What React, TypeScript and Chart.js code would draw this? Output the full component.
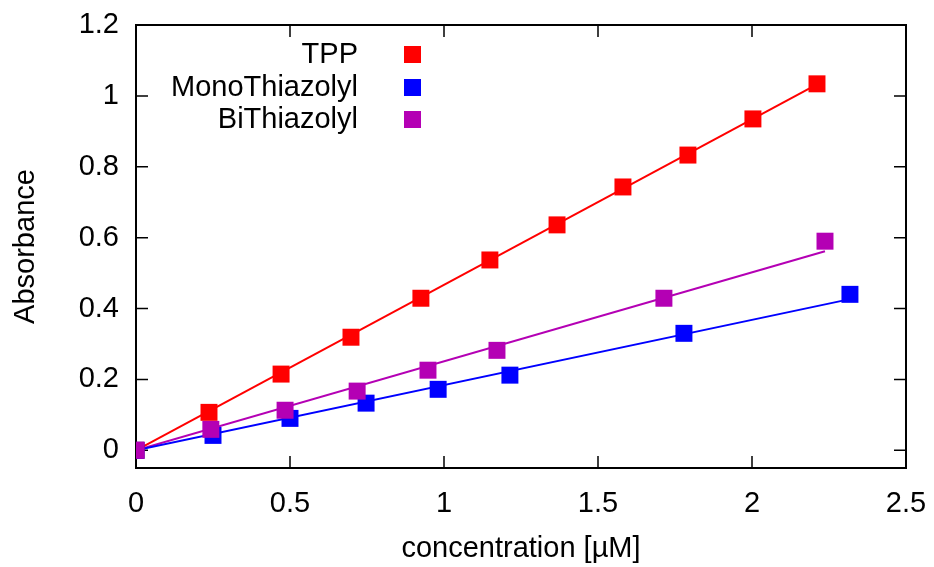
import React, { useEffect, useRef } from "react";
import { Chart, registerables } from "chart.js";

Chart.register(...registerables);

const seriesNames = ["TPP", "MonoThiazolyl", "BiThiazolyl"];
const seriesColors = ["#ff0000", "#0000ff", "#b400b4"];

const tppX = [0, 0.237, 0.471, 0.698, 0.925, 1.149, 1.367, 1.581, 1.792, 2.003, 2.211];
const tppY = [0, 0.107, 0.215, 0.319, 0.429, 0.537, 0.636, 0.743, 0.833, 0.935, 1.034];

const monoX = [0, 0.25, 0.5, 0.747, 0.981, 1.214, 1.779, 2.318];
const monoY = [0, 0.042, 0.09, 0.133, 0.172, 0.212, 0.33, 0.44];

const biX = [0, 0.243, 0.484, 0.718, 0.948, 1.172, 1.714, 2.237];
const biY = [0, 0.059, 0.113, 0.167, 0.226, 0.282, 0.429, 0.59];

// linear fits through origin: slope and end of fitted range
const fitSlopes = [0.467, 0.184, 0.251];
const fitEndX = [2.211, 2.318, 2.237];

const xTicks = [0, 0.5, 1, 1.5, 2, 2.5];
const yTicks = [0, 0.2, 0.4, 0.6, 0.8, 1, 1.2];

const xTitle = "concentration [µM]";
const yTitle = "Absorbance";

const FONT = "'Liberation Sans', Arial, sans-serif";
const FS = 29;

const pts = (xs: number[], ys: number[]) => xs.map((x, i) => ({ x, y: ys[i] }));

const framePlugin = {
  id: "frame",
  beforeDatasetsDraw(chart: any) {
    const { ctx, chartArea: a, scales } = chart;
    const tl = 12;
    ctx.save();
    ctx.strokeStyle = "#000";
    ctx.lineWidth = 1.5;
    ctx.beginPath();
    for (const v of xTicks) {
      const px = scales.x.getPixelForValue(v);
      ctx.moveTo(px, a.bottom);
      ctx.lineTo(px, a.bottom - tl);
      ctx.moveTo(px, a.top);
      ctx.lineTo(px, a.top + tl);
    }
    for (const v of yTicks) {
      const py = scales.y.getPixelForValue(v);
      ctx.moveTo(a.left, py);
      ctx.lineTo(a.left + tl, py);
      ctx.moveTo(a.right, py);
      ctx.lineTo(a.right - tl, py);
    }
    ctx.stroke();
    ctx.lineWidth = 2;
    ctx.strokeRect(a.left, a.top, a.right - a.left, a.bottom - a.top);
    ctx.restore();
  },
  afterDraw(chart: any) {
    const { ctx, chartArea: a } = chart;
    ctx.save();
    ctx.fillStyle = "#000";
    ctx.font = `${FS}px ${FONT}`;
    ctx.textAlign = "center";
    ctx.textBaseline = "alphabetic";
    ctx.fillText(xTitle, (a.left + a.right) / 2, 557);
    ctx.save();
    ctx.translate(34, (a.top + a.bottom) / 2);
    ctx.rotate(-Math.PI / 2);
    ctx.fillText(yTitle, 0, 0);
    ctx.restore();
    const baselines = [63, 96, 128];
    ctx.textAlign = "right";
    seriesNames.forEach((n, i) => {
      ctx.fillStyle = "#000";
      ctx.fillText(n, 358, baselines[i]);
      ctx.fillStyle = seriesColors[i];
      ctx.fillRect(404, baselines[i] - 17, 17, 17);
    });
    ctx.restore();
  },
};

const zeroPad = (s: any) => {
  s.paddingLeft = 0;
  s.paddingRight = 0;
  s.paddingTop = 0;
  s.paddingBottom = 0;
};

export default function App() {
  const ref = useRef<HTMLCanvasElement>(null);
  useEffect(() => {
    if (!ref.current) return;
    const xs = [tppX, monoX, biX];
    const ys = [tppY, monoY, biY];
    const lineSets = seriesNames.map((n, i) => ({
      label: n + " fit",
      data: [
        { x: 0, y: 0 },
        { x: fitEndX[i], y: fitSlopes[i] * fitEndX[i] },
      ],
      showLine: true,
      borderColor: seriesColors[i],
      borderWidth: 2,
      pointRadius: 0,
      order: 10 + i,
    }));
    const pointSets = seriesNames.map((n, i) => ({
      label: n,
      data: pts(xs[i], ys[i]),
      showLine: false,
      pointStyle: "rect",
      pointRadius: 12,
      pointBorderWidth: 0,
      pointBackgroundColor: seriesColors[i],
      backgroundColor: seriesColors[i],
      borderColor: seriesColors[i],
      order: 2 - i,
    }));
    const chart = new Chart(ref.current, {
      type: "scatter",
      data: { datasets: [...lineSets, ...pointSets] as any },
      options: {
        animation: false,
        responsive: false,
        layout: { padding: { top: 25, right: 28, left: 0, bottom: 0 } },
        plugins: { legend: { display: false }, tooltip: { enabled: false } },
        scales: {
          x: {
            type: "linear",
            min: 0,
            max: 2.5,
            grid: { display: false, drawTicks: false },
            border: { display: false },
            afterBuildTicks: (s: any) => {
              s.ticks = xTicks.map((v) => ({ value: v }));
            },
            afterFit: (s: any) => {
              s.height = 99;
              zeroPad(s);
            },
            ticks: {
              color: "#000",
              font: { family: FONT, size: FS },
              padding: 19,
              maxRotation: 0,
              callback: (v: any) => String(v),
            },
          },
          y: {
            type: "linear",
            min: -0.05,
            max: 1.2,
            grid: { display: false, drawTicks: false },
            border: { display: false },
            afterBuildTicks: (s: any) => {
              s.ticks = yTicks.map((v) => ({ value: v }));
            },
            afterFit: (s: any) => {
              s.width = 136;
              zeroPad(s);
            },
            ticks: {
              color: "#000",
              font: { family: FONT, size: FS },
              padding: 17,
              callback: (v: any) => String(v),
            },
          },
        },
      },
      plugins: [framePlugin],
    });
    return () => chart.destroy();
  }, []);
  return (
    <div style={{ position: "fixed", left: 0, top: 0, width: 934, height: 567, background: "#fff" }}>
      <canvas ref={ref} width={934} height={567} style={{ width: 934, height: 567 }} />
    </div>
  );
}
